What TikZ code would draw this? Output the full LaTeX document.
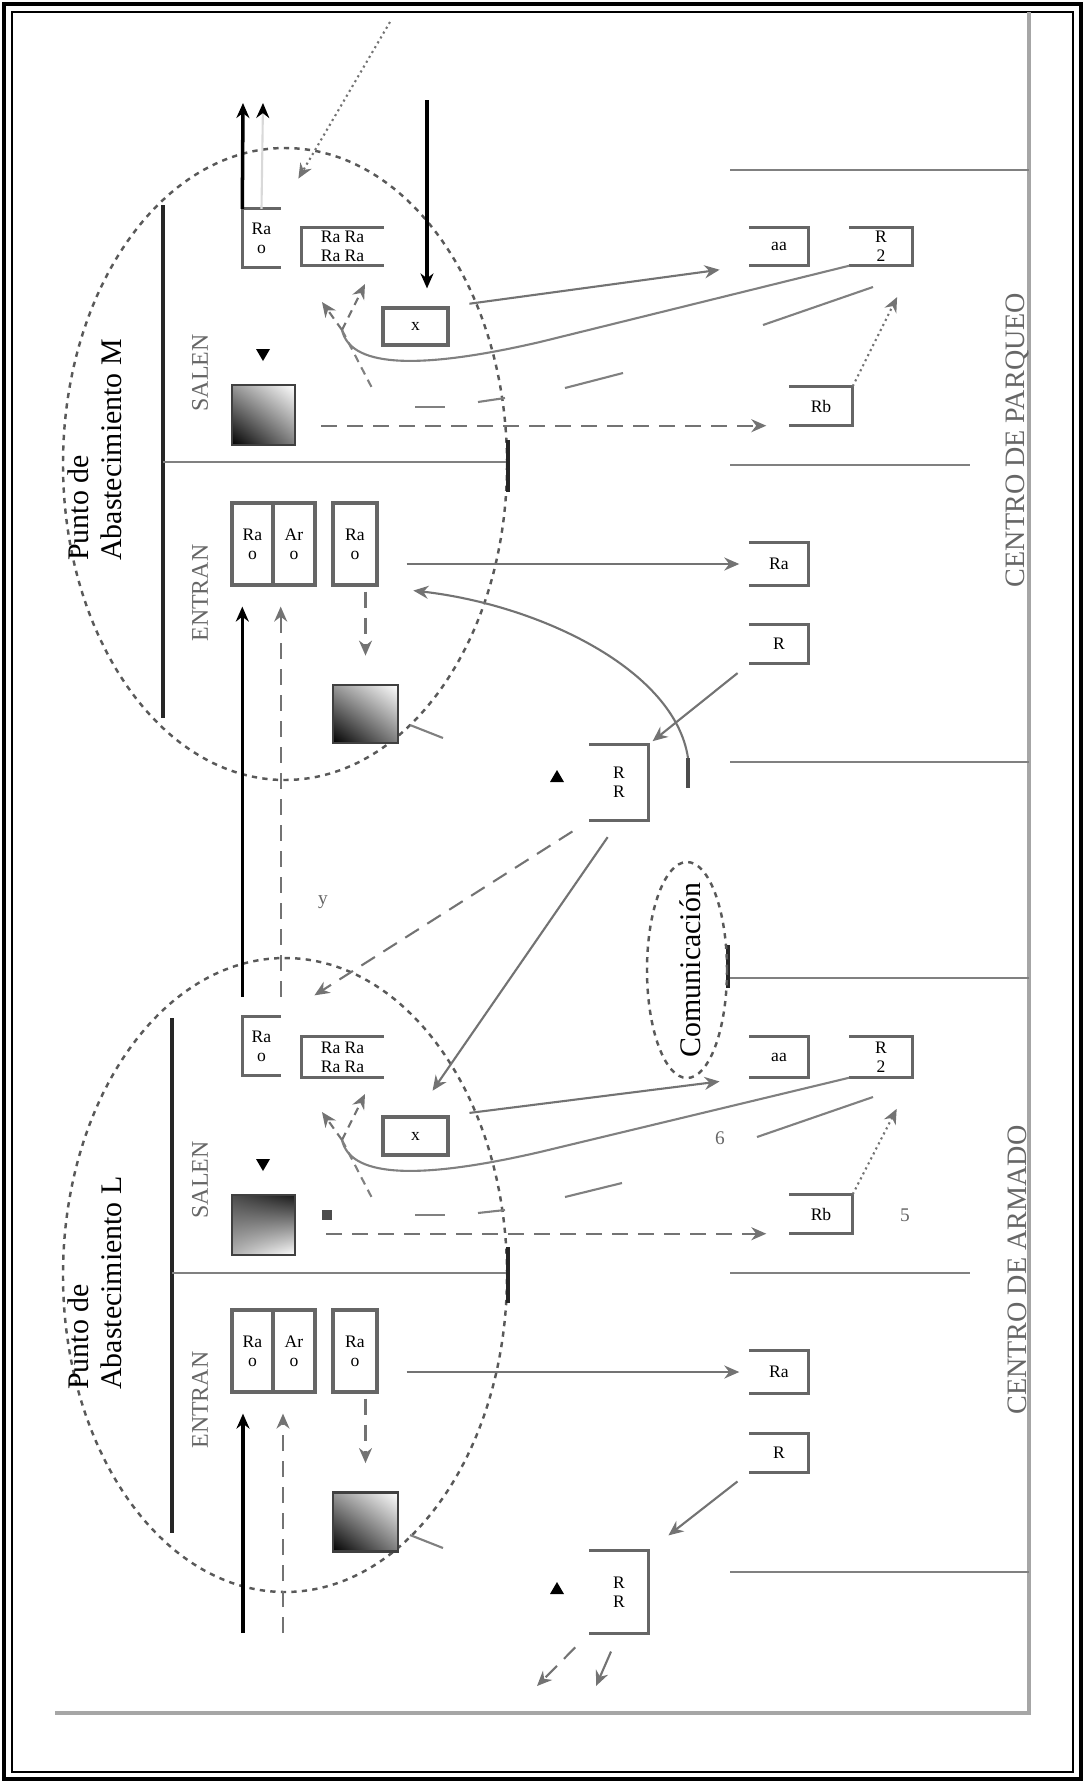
\documentclass[tikz,border=0pt]{standalone}
\usepackage{fontspec}
\setmainfont{Liberation Serif}
\usetikzlibrary{positioning,arrows.meta,shadings}

\begin{document}
\begin{tikzpicture}[
    x=0.1mm, y=-0.1mm,
    every node/.style={inner sep=0pt},
    cell/.style={rectangle, draw=black!60, line width=0.9pt, align=center, font=\fontsize{5}{5.5}\selectfont},
    openbox/.style={rectangle, align=center, font=\fontsize{5}{5.5}\selectfont},
    side/.style={draw=black!60, line width=0.9pt},
    gradbox/.style={rectangle, draw=black!75, line width=0.8pt, shade, lower left=black, upper right=white, upper left=black!40, lower right=black!50},
    lbl/.style={rotate=90, font=\fontsize{6.8}{8}\selectfont, text=black!60},
    title/.style={rotate=90, align=left, font=\fontsize{8.5}{9.5}\selectfont},
    tag/.style={font=\fontsize{5.5}{6}\selectfont, text=black!60},
    arrow/.style={->, >={Stealth[length=1.5mm, width=1.3mm]}, draw=black!55, line width=0.6pt},
    thickarrow/.style={arrow, draw=black, line width=1pt},
    darrow/.style={arrow, dash pattern=on 1.6mm off 1mm},
    sarrow/.style={arrow, dash pattern=on 0.8mm off 0.6mm},
    dotarrow/.style={arrow, densely dotted},
    wall/.style={draw=black!85, line width=1.1pt},
    partline/.style={draw=black!50, line width=0.6pt},
    zone/.style={draw=black!65, line width=0.7pt, dash pattern=on 1.5pt off 1.5pt}
]
\useasboundingbox (0,0) rectangle (1085,1782);
\draw[line width=1.2pt] (4,4) rectangle (1081,1779);
\draw[line width=0.5pt] (12,12) rectangle (1073,1772);
\draw[draw=black!35, line width=1pt] (1029,12) -- (1029,1713) -- (55,1713);

\draw[partline] (730,170) -- (1029,170);
\draw[partline] (730,465) -- (970,465);
\draw[partline] (730,762) -- (1029,762);
\draw[partline] (728,978) -- (1029,978);
\draw[wall] (728,945) -- (728,988);
\draw[partline] (730,1273) -- (970,1273);
\draw[partline] (730,1572) -- (1029,1572);
\node[lbl, font=\fontsize{8}{9}\selectfont] (cpm) at (1017,440) {CENTRO DE PARQUEO};
\node[lbl, font=\fontsize{8}{9}\selectfont] (cpl) at (1017,1270) {CENTRO DE ARMADO};

\draw[zone] (285,464) ellipse [x radius=22.2mm, y radius=31.6mm];
\draw[zone] (285,1275) ellipse [x radius=22.2mm, y radius=31.7mm];
\node[title] (ptm) at (95,450) {Punto de\\Abastecimiento M};
\node[title] (ptl) at (95,1283) {Punto de\\Abastecimiento L};
\node[lbl] (salm) at (200,373) {SALEN};
\node[lbl] (entm) at (200,593) {ENTRAN};
\node[lbl] (sall) at (200,1180) {SALEN};
\node[lbl] (entl) at (200,1400) {ENTRAN};
\draw[wall] (163,205) -- (163,718);
\draw[wall] (172,1018) -- (172,1533);
\draw[partline] (163,462) -- (508,462);
\draw[wall] (508,440) -- (508,492);
\draw[partline] (172,1273) -- (508,1273);
\draw[wall] (508,1247) -- (508,1303);

\node[openbox, minimum width=3.7mm, minimum height=5.7mm] (outm) at (261.5,238) {Ra\\o};
\node[openbox, minimum width=8.1mm, minimum height=3.7mm] (pairm) at (342.5,246.5) {Ra Ra\\Ra Ra};
\node[cell, minimum width=6.5mm, minimum height=3.7mm] (crossm) at (415.5,326.5) {x};
\node[gradbox, minimum width=6.3mm, minimum height=6mm] (salgm) at (263.5,415) {};
\node[cell, minimum width=4.1mm, minimum height=8.2mm] (entam) at (252.5,544) {Ra\\o};
\node[cell, minimum width=4.2mm, minimum height=8.2mm] (entbm) at (294,544) {Ar\\o};
\node[cell, minimum width=4.4mm, minimum height=8.2mm] (entcm) at (355,544) {Ra\\o};
\node[gradbox, minimum width=6.5mm, minimum height=5.8mm] (entgm) at (365.5,714) {};
\node[openbox, minimum width=5.8mm, minimum height=3.7mm] (rrm) at (779,246.5) {aa};
\node[openbox, minimum width=6.2mm, minimum height=3.7mm] (r2m) at (881,246.5) {R\\2};
\node[openbox, minimum width=6.2mm, minimum height=3.8mm] (r5m) at (821,406) {Rb};
\node[openbox, minimum width=5.8mm, minimum height=4.2mm] (rbam) at (779,564) {Ra};
\node[openbox, minimum width=5.8mm, minimum height=3.8mm] (rbbm) at (779,644) {R};
\node[openbox, minimum width=5.8mm, minimum height=7.5mm] (rnm) at (619,782.5) {R\\R};

\node[openbox, minimum width=3.7mm, minimum height=5.7mm] (outl) at (261.5,1046) {Ra\\o};
\node[openbox, minimum width=8.1mm, minimum height=4mm] (pairl) at (342.5,1057) {Ra Ra\\Ra Ra};
\node[cell, minimum width=6.5mm, minimum height=3.8mm] (crossl) at (415.5,1136) {x};
\node[gradbox, minimum width=6.3mm, minimum height=6mm, lower left=black!30, upper left=black!70, upper right=black!90, lower right=white] (salgl) at (263.5,1225) {};
\node[cell, minimum width=4.1mm, minimum height=8.2mm] (ental) at (252.5,1351) {Ra\\o};
\node[cell, minimum width=4.2mm, minimum height=8.2mm] (entbl) at (294,1351) {Ar\\o};
\node[cell, minimum width=4.4mm, minimum height=8.2mm] (entcl) at (355,1351) {Ra\\o};
\node[gradbox, minimum width=6.5mm, minimum height=5.9mm] (entgl) at (365.5,1522) {};
\node[openbox, minimum width=5.8mm, minimum height=4mm] (rrl) at (779,1057) {aa};
\node[openbox, minimum width=6.2mm, minimum height=4mm] (r2l) at (881,1057) {R\\2};
\node[openbox, minimum width=6.2mm, minimum height=3.8mm] (r5l) at (821,1214) {Rb};
\node[openbox, minimum width=5.8mm, minimum height=4.1mm] (rbal) at (779,1372) {Ra};
\node[openbox, minimum width=5.8mm, minimum height=3.7mm] (rbbl) at (779,1453) {R};
\node[openbox, minimum width=5.8mm, minimum height=8.1mm] (rnl) at (619,1592) {R\\R};

\draw[side] (outm.north east) -- (outm.north west) -- (outm.south west) -- (outm.south east);
\draw[side] (pairm.north east) -- (pairm.north west) -- (pairm.south west) -- (pairm.south east);
\draw[side] (outl.north east) -- (outl.north west) -- (outl.south west) -- (outl.south east);
\draw[side] (pairl.north east) -- (pairl.north west) -- (pairl.south west) -- (pairl.south east);
\draw[side] (rrm.north west) -- (rrm.north east) -- (rrm.south east) -- (rrm.south west);
\draw[side] (r2m.north west) -- (r2m.north east) -- (r2m.south east) -- (r2m.south west);
\draw[side] (r5m.north west) -- (r5m.north east) -- (r5m.south east) -- (r5m.south west);
\draw[side] (rbam.north west) -- (rbam.north east) -- (rbam.south east) -- (rbam.south west);
\draw[side] (rbbm.north west) -- (rbbm.north east) -- (rbbm.south east) -- (rbbm.south west);
\draw[side] (rnm.north west) -- (rnm.north east) -- (rnm.south east) -- (rnm.south west);
\draw[side] (rrl.north west) -- (rrl.north east) -- (rrl.south east) -- (rrl.south west);
\draw[side] (r2l.north west) -- (r2l.north east) -- (r2l.south east) -- (r2l.south west);
\draw[side] (r5l.north west) -- (r5l.north east) -- (r5l.south east) -- (r5l.south west);
\draw[side] (rbal.north west) -- (rbal.north east) -- (rbal.south east) -- (rbal.south west);
\draw[side] (rbbl.north west) -- (rbbl.north east) -- (rbbl.south east) -- (rbbl.south west);
\draw[side] (rnl.north west) -- (rnl.north east) -- (rnl.south east) -- (rnl.south west);

\fill (256,349) -- (270,349) -- (263,361) -- cycle;
\fill (256,1159) -- (270,1159) -- (263,1171) -- cycle;
\fill (550,782) -- (564,782) -- (557,770) -- cycle;
\fill (550,1594) -- (564,1594) -- (557,1582) -- cycle;
\fill[black!70] (322,1210) rectangle (332,1220);

\coordinate (exm1) at (243,103);
\coordinate (exm2) at (263,103);
\coordinate (inm) at (427,100);
\coordinate (dm) at (390,22);
\coordinate (lpm) at (342,330);
\coordinate (lpma) at (322,302);
\coordinate (lpmb) at (365,284);
\coordinate (lpmc) at (372,388);
\coordinate (lpl) at (342,1140);
\coordinate (lpla) at (322,1112);
\coordinate (lplb) at (365,1094);
\coordinate (lplc) at (372,1198);
\coordinate (cvm) at (688,758);
\coordinate (inl1) at (243,1633);
\coordinate (inl2) at (283,1633);
\coordinate (bl1) at (537,1686);
\coordinate (bl2) at (596,1686);

\draw[thickarrow] (outm.north west) -- (exm1);
\draw[arrow, draw=black!15, >={Stealth[length=1.5mm, width=1.3mm, black]}] (outm.north) -- (exm2);
\draw[thickarrow, shorten >=1.8mm] (inm) -- (inm |- crossm.north);
\draw[dotarrow, shorten >=3.5mm] (dm) -- (outm.north east);
\draw[arrow, shorten <=2mm, shorten >=3mm] (crossm.north east) -- (rrm.south west);
\draw[partline] (r2m.south west) -- (540,342) .. controls (410,372) and (350,365) .. (lpm);
\draw[sarrow] (lpm) -- (lpma);
\draw[sarrow] (lpm) -- (lpmb);
\draw[partline, dash pattern=on 0.8mm off 0.6mm] (lpm) -- (lpmc);
\draw[darrow, shorten <=2.5mm, shorten >=2.3mm] (salgm.east |- r5m.south west) -- (r5m.south west);
\draw[dotarrow, shorten >=3.5mm] (r5m.north east) -- (r2m.south east);
\draw[partline] (763,325) -- (873,287);
\draw[partline] (565,388) -- (623,373);
\draw[partline] (415,407) -- (445,407);
\draw[partline] (478,402) -- (505,398);

\draw[thickarrow, shorten <=2mm, shorten >=2mm] (outl.north west) -- (outl.north west |- entam.south);
\draw[darrow, shorten <=2mm, shorten >=2mm] (outl.north east) -- (outl.north east |- entbm.south);
\draw[darrow, shorten <=0.5mm, shorten >=2.8mm] (entgm.north |- entcm.south) -- (entgm.north);
\draw[arrow, shorten <=2.8mm, shorten >=1mm] (entcm.east |- rbam.west) -- (rbam.west);
\draw[partline] (410,725) -- (443,738);
\draw[wall, draw=black!70] (688,758) -- (688,788);
\draw[arrow, shorten >=3.5mm] (cvm) .. controls (675,670) and (540,605) .. (entcm.south east);
\draw[arrow, shorten <=1.5mm, shorten >=0.5mm] (rbbm.south west) -- (rnm.north east);
\draw[arrow, shorten <=2mm, shorten >=3mm] (rnm.south) -- (crossl.north);
\draw[darrow, shorten <=2mm, shorten >=4mm] (rnm.south west) -- (outl.north east);
\node[tag] (ym) at (323,902) {y};

\draw[arrow, shorten <=2mm, shorten >=3mm] (crossl.north east) -- (rrl.south west);
\draw[partline] (r2l.south west) -- (540,1152) .. controls (410,1182) and (350,1175) .. (lpl);
\draw[sarrow] (lpl) -- (lpla);
\draw[sarrow] (lpl) -- (lplb);
\draw[partline, dash pattern=on 0.8mm off 0.6mm] (lpl) -- (lplc);
\draw[darrow, shorten <=3mm, shorten >=2.3mm] (salgl.east |- r5l.south west) -- (r5l.south west);
\draw[dotarrow, shorten >=3.5mm] (r5l.north east) -- (r2l.south east);
\draw[partline] (757,1137) -- (873,1097);
\draw[partline] (565,1197) -- (622,1183);
\draw[partline] (415,1215) -- (445,1215);
\draw[partline] (478,1213) -- (505,1210);
\node[tag] (sixl) at (720,1138) {6};
\node[tag] (fivel) at (905,1215) {5};

\draw[thickarrow, shorten >=2mm] (inl1) -- (inl1 |- ental.south);
\draw[darrow, shorten >=2mm] (inl2) -- (inl2 |- entbl.south);
\draw[darrow, shorten <=0.5mm, shorten >=2.8mm] (entgl.north |- entcl.south) -- (entgl.north);
\draw[arrow, shorten <=2.8mm, shorten >=1mm] (entcl.east |- rbal.west) -- (rbal.west);
\draw[partline] (410,1535) -- (443,1548);
\draw[arrow, shorten <=1.5mm, shorten >=2.5mm] (rbbl.south west) -- (rnl.north east);
\draw[darrow, shorten <=2mm] (rnl.south west) -- (bl1);
\draw[arrow, shorten <=2mm] (rnl.south) -- (bl2);

\node[rotate=90, font=\fontsize{8.5}{9.5}\selectfont] (com) at (690,970) {Comunicación};
\draw[zone] (687,970) ellipse [x radius=4mm, y radius=10.8mm];
\end{tikzpicture}
\end{document}
